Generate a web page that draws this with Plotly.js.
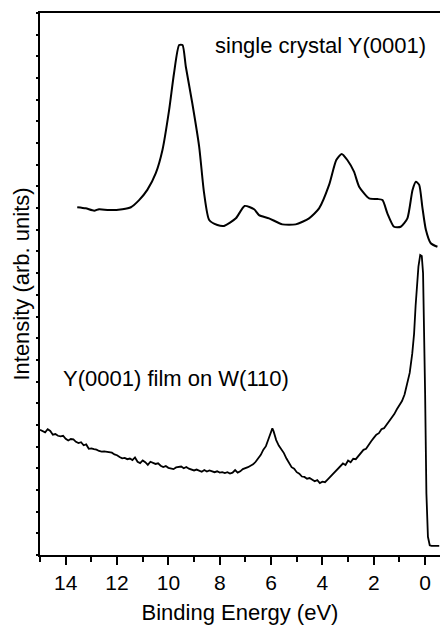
<!DOCTYPE html>
<html>
<head>
<meta charset="utf-8">
<script src="https://cdn.plot.ly/plotly-3.0.1.min.js"></script>
<style>html,body{margin:0;padding:0;background:#fff;}#chart{width:440px;height:625px;}</style>
</head>
<body>
<div id="chart"></div>
<script>
// Single crystal Y(0001) spectrum (binding energy eV, intensity arb. units)
const crystalEnergy = [13.55,13.22,12.89,12.70,12.31,11.79,11.46,11.14,10.82,10.49,10.23,9.97,9.78,9.58,9.45,9.32,9.07,8.80,8.61,8.41,8.09,7.83,7.37,7.03,6.66,6.47,6.08,5.56,5.04,4.52,4.13,3.74,3.46,3.25,3.03,2.77,2.57,2.18,1.86,1.66,1.47,1.21,0.95,0.69,0.49,0.36,0.23,0.11,-0.03,-0.22,-0.48];
const crystalIntensity = [16.04,15.99,15.88,15.95,15.91,15.95,16.04,16.37,16.84,17.61,18.68,20.53,22.22,23.52,23.52,22.52,20.85,18.83,16.70,15.45,15.22,15.18,15.53,16.10,15.95,15.68,15.53,15.25,15.25,15.53,15.99,17.07,18.22,18.50,18.22,17.68,16.99,16.45,16.42,16.37,15.76,15.14,15.14,15.53,16.84,17.22,17.07,16.07,15.00,14.38,14.22];

// Y(0001) film on W(110) spectrum
const filmEnergy = [15.0,14.9,14.8,14.7,14.6,14.5,14.4,14.3,14.2,14.1,14.0,13.9,13.8,13.7,13.6,13.5,13.4,13.3,13.2,13.1,13.0,12.9,12.8,12.7,12.6,12.5,12.4,12.3,12.2,12.1,12.0,11.9,11.8,11.7,11.6,11.5,11.4,11.3,11.2,11.1,11.0,10.9,10.8,10.7,10.6,10.5,10.4,10.3,10.2,10.1,10.0,9.9,9.8,9.7,9.6,9.5,9.4,9.3,9.2,9.1,9.0,8.9,8.8,8.7,8.6,8.5,8.4,8.3,8.2,8.1,8.0,7.9,7.8,7.7,7.6,7.5,7.4,7.3,7.2,7.1,7.0,6.9,6.8,6.7,6.6,6.5,6.4,6.3,6.2,6.1,6.0,5.95,5.9,5.8,5.7,5.6,5.5,5.4,5.3,5.2,5.1,5.0,4.9,4.8,4.7,4.6,4.5,4.4,4.3,4.2,4.1,4.0,3.9,3.8,3.7,3.6,3.5,3.4,3.3,3.2,3.1,3.0,2.9,2.8,2.7,2.6,2.5,2.4,2.3,2.2,2.1,2.0,1.9,1.8,1.7,1.6,1.5,1.4,1.3,1.2,1.1,1.0,0.9,0.8,0.7,0.6,0.5,0.43,0.37,0.31,0.26,0.19,0.13,0.08,0.04,0.0,-0.05,-0.11,-0.18,-0.25,-0.55];
const filmIntensity = [5.78,5.70,5.66,5.80,5.72,5.55,5.58,5.50,5.47,5.50,5.36,5.28,5.35,5.33,5.22,5.16,5.20,5.06,5.10,4.90,4.92,4.88,4.86,4.80,4.77,4.78,4.76,4.75,4.72,4.64,4.60,4.52,4.46,4.48,4.42,4.45,4.38,4.50,4.30,4.24,4.36,4.28,4.16,4.30,4.24,4.20,4.23,4.12,4.06,4.10,4.02,4.00,3.96,4.04,4.06,4.08,4.00,4.06,3.98,3.95,3.90,3.94,3.88,3.84,3.92,3.85,3.90,3.86,3.82,3.86,3.80,3.82,3.78,3.82,3.76,3.80,3.92,3.80,3.86,3.96,4.00,4.05,4.12,4.18,4.30,4.45,4.62,4.86,5.02,5.35,5.65,5.84,5.70,5.30,5.05,4.88,4.70,4.45,4.25,4.05,3.98,3.82,3.75,3.62,3.60,3.52,3.55,3.46,3.40,3.45,3.32,3.38,3.36,3.48,3.60,3.75,3.85,4.00,4.10,4.22,4.15,4.36,4.28,4.44,4.42,4.55,4.72,4.85,4.90,5.10,5.25,5.40,5.55,5.62,5.80,5.85,6.00,6.15,6.30,6.50,6.72,6.90,7.10,7.40,7.85,8.40,9.30,10.2,11.5,12.6,13.3,13.84,13.79,13.0,10.84,7.46,2.85,0.84,0.45,0.42,0.42];

const labels = ["single crystal Y(0001)", "Y(0001) film on W(110)"];
const xTickVals = [14,12,10,8,6,4,2,0];
const xTickText = ["14","12","10","8","6","4","2","0"];

const FONT = '"Liberation Sans", Arial, Helvetica, sans-serif';

const traces = [
  {x: crystalEnergy, y: crystalIntensity, type: 'scatter', mode: 'lines',
   line: {color: '#000', width: 2, shape: 'spline', smoothing: 0.6}, hoverinfo: 'skip'},
  {x: filmEnergy, y: filmIntensity, type: 'scatter', mode: 'lines',
   line: {color: '#000', width: 1.8}, hoverinfo: 'skip'}
];

const layout = {
  width: 440, height: 625,
  margin: {l: 40, r: 0, t: 13, b: 70, pad: 0},
  paper_bgcolor: '#fff', plot_bgcolor: '#fff',
  showlegend: false,
  font: {family: FONT, color: '#000', size: 21},
  xaxis: {
    range: [15, -0.58], showgrid: false, zeroline: false,
    showline: true, linecolor: '#000', linewidth: 2, mirror: true,
    ticks: 'outside', ticklen: 8, tickwidth: 2, tickcolor: '#000',
    tickvals: xTickVals, ticktext: xTickText,
    tickfont: {family: FONT, size: 21, color: '#000'},
    minor: {dtick: 1, tick0: 0, ticks: 'outside', ticklen: 5, tickwidth: 2, tickcolor: '#000'},
    title: {text: 'Binding Energy (eV)', font: {family: FONT, size: 22, color: '#000'}, standoff: 15},
    automargin: false
  },
  yaxis: {
    range: [0, 25], showgrid: false, zeroline: false,
    showline: true, linecolor: '#000', linewidth: 2,
    ticks: 'outside', ticklen: 2, tickwidth: 2, tickcolor: '#000', dtick: 1,
    showticklabels: false,
    title: {text: 'Intensity (arb. units)', font: {family: FONT, size: 22, color: '#000'}, standoff: 0},
    automargin: false
  },
  annotations: [
    {x: -0.1, y: 23.52, xref: 'x', yref: 'y', text: labels[0], showarrow: false,
     xanchor: 'right', yanchor: 'middle', font: {family: FONT, size: 22, color: '#000'}},
    {x: 14.2, y: 8.16, xref: 'x', yref: 'y', text: labels[1], showarrow: false,
     xanchor: 'left', yanchor: 'middle', font: {family: FONT, size: 22, color: '#000'}}
  ]
};

Plotly.newPlot('chart', traces, layout, {staticPlot: true, displayModeBar: false});
</script>
</body>
</html>
